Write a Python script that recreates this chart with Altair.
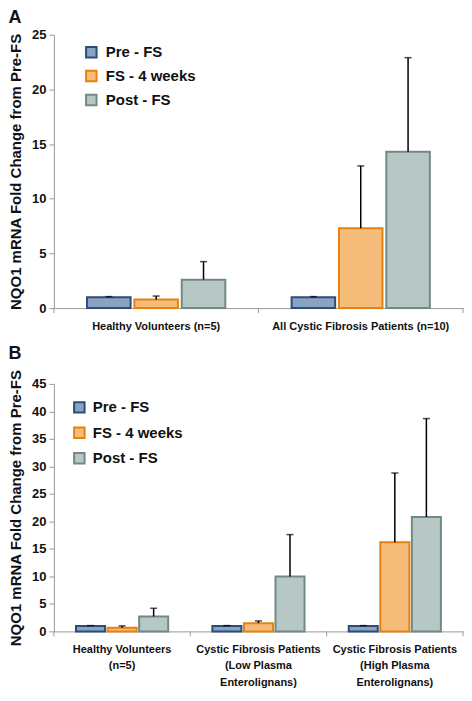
import altair as alt
import pandas as pd

FONT = "Liberation Sans"

series = ["Pre - FS", "FS - 4 weeks", "Post - FS"]
fills = ["#8aa3c2", "#f6bd7a", "#b6c7c5"]
strokes = ["#2c4d7a", "#e8810f", "#718a86"]

# Panel A
groups_a = ["Healthy Volunteers (n=5)", "All Cystic Fibrosis Patients (n=10)"]
a_pre = [1.0, 1.0]
a_fs = [0.78, 7.3]
a_post = [2.6, 14.3]
a_pre_top = [1.05, 1.05]
a_fs_top = [1.1, 13.0]
a_post_top = [4.25, 22.9]

# Panel B
groups_b = [
    "Healthy Volunteers|(n=5)",
    "Cystic Fibrosis Patients|(Low Plasma|Enterolignans)",
    "Cystic Fibrosis Patients|(High Plasma|Enterolignans)",
]
b_pre = [1.0, 1.0, 1.0]
b_fs = [0.68, 1.5, 16.2]
b_post = [2.7, 10.0, 20.8]
b_pre_top = [1.05, 1.05, 1.05]
b_fs_top = [1.0, 1.9, 28.8]
b_post_top = [4.2, 17.6, 38.7]


def frame(groups, vals, tops):
    rows = []
    for s, v, t in zip(series, vals, tops):
        for g, vv, tt in zip(groups, v, t):
            rows.append({"group": g, "series": s, "value": vv, "top": tt})
    return pd.DataFrame(rows)


def panel(df, groups, width, height, ymax, letter, title_offset, lx, ly, rowpad, laboff):
    legend = alt.Legend(
        orient="none", legendX=lx, legendY=ly, title=None,
        symbolType="square", symbolSize=110, symbolStrokeWidth=2,
        labelFont=FONT, labelFontSize=15, labelFontWeight="bold",
        labelColor="#111111", rowPadding=rowpad, labelOffset=laboff,
    )
    xaxis = alt.Axis(
        title=None, labelAngle=0, ticks=False, tickSize=0, domainColor="#9a9a9a",
        labelFont=FONT, labelFontSize=11, labelFontWeight="bold", labelColor="#111111",
        labelPadding=12, labelBaseline="top", labelLineHeight=16.5,
        labelExpr="split(datum.label, '|')",
    )
    yaxis = alt.Axis(
        values=list(range(0, ymax + 1, 5)), grid=False, labelOverlap=False,
        domainColor="#9a9a9a", tickColor="#9a9a9a", tickSize=5,
        labelFont=FONT, labelFontSize=13, labelFontWeight="bold", labelColor="#111111",
        labelPadding=3,
        title="NQO1 mRNA Fold Change from Pre-FS", titleFont=FONT, titleFontSize=15,
        titleFontWeight="bold", titleColor="#111111", titlePadding=8,
    )
    yscale = alt.Scale(domain=[0, ymax], nice=False)
    xscale = alt.Scale(paddingInner=0, paddingOuter=0)
    xoff = alt.XOffset("series:N", sort=series,
                       scale=alt.Scale(paddingInner=0.08, paddingOuter=0.7))
    bars = alt.Chart(df).mark_bar(strokeWidth=2, opacity=1).encode(
        x=alt.X("group:N", sort=groups, scale=xscale, axis=xaxis),
        xOffset=xoff,
        y=alt.Y("value:Q", scale=yscale, axis=yaxis),
        fill=alt.Fill("series:N", sort=series,
                      scale=alt.Scale(domain=series, range=fills), legend=legend),
        stroke=alt.Stroke("series:N", sort=series,
                          scale=alt.Scale(domain=series, range=strokes), legend=legend),
    )
    err = alt.Chart(df).mark_rule(color="black", strokeWidth=1.5).encode(
        x=alt.X("group:N", sort=groups, scale=xscale, axis=xaxis),
        xOffset=xoff,
        y=alt.Y("value:Q", scale=yscale, axis=yaxis), y2="top:Q",
    )
    cap = alt.Chart(df).mark_tick(color="black", size=7, thickness=1.5).encode(
        x=alt.X("group:N", sort=groups, scale=xscale, axis=xaxis),
        xOffset=xoff,
        y=alt.Y("top:Q", scale=yscale, axis=yaxis),
    )
    tdf = pd.DataFrame({"group": groups})
    ticks = alt.Chart(tdf).mark_rule(color="#9a9a9a", strokeWidth=1).encode(
        x=alt.X("group:N", sort=groups, bandPosition=0, scale=xscale, axis=xaxis),
        y=alt.value(height), y2=alt.value(height + 5),
    )
    endtick = alt.Chart(tdf.head(1)).mark_rule(color="#9a9a9a", strokeWidth=1).encode(
        x=alt.value(width), y=alt.value(height), y2=alt.value(height + 5),
    )
    return alt.layer(bars, err, cap, ticks, endtick).properties(
        width=width, height=height,
        title=alt.TitleParams(
            letter, anchor="start", frame="bounds", font=FONT, fontSize=18,
            fontWeight="bold", color="#111111", offset=title_offset,
        ),
    )


dfa = frame(groups_a, [a_pre, a_fs, a_post], [a_pre_top, a_fs_top, a_post_top])
dfb = frame(groups_b, [b_pre, b_fs, b_post], [b_pre_top, b_fs_top, b_post_top])

pa = panel(dfa, groups_a, 410, 274, 25, "A", 2, 30, 10, 5, 7)
pb = panel(dfb, groups_b, 410, 248, 45, "B", 6, 18, 16, 6.5, 6)

chart = alt.vconcat(pa, pb, spacing=14).resolve_scale(
    x="independent", y="independent", fill="independent", stroke="independent",
    xOffset="independent",
).properties(
    padding={"left": 0, "top": 0, "right": 0, "bottom": 0}
).configure_view(stroke=None)

chart.save("out.html", embed_options={"renderer": "svg", "actions": False})
